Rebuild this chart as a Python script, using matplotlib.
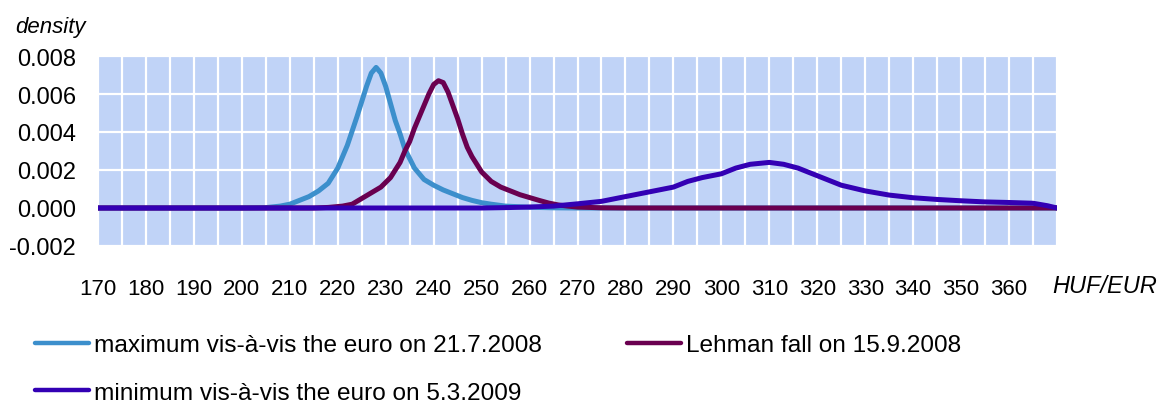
import matplotlib
matplotlib.use("Agg")
import matplotlib.pyplot as plt
from matplotlib.ticker import MultipleLocator

plt.rcParams['font.family'] = ['Liberation Sans', 'DejaVu Sans']

# --- data (HUF/EUR, density) ---
max_x = [170, 200, 205, 208, 210, 212, 214, 216, 218, 220, 222, 224, 226, 227, 228,
         229, 230, 231, 232, 233, 234, 235, 236, 237, 238, 240, 242, 244, 246, 248,
         250, 252, 255, 260, 265, 270, 370]
max_y = [0, 0, 0.00002, 0.0001, 0.0002, 0.0004, 0.0006, 0.0009, 0.0013, 0.0021,
         0.0033, 0.0048, 0.0064, 0.0071, 0.0074, 0.0071, 0.0064, 0.0055, 0.0046,
         0.0039, 0.0031, 0.0026, 0.0021, 0.0018, 0.0015, 0.0012, 0.00095, 0.00075,
         0.00055, 0.0004, 0.00028, 0.0002, 0.0001, 0.00004, 0.00001, 0, 0]

lehman_x = [170, 215, 218, 221, 223, 225, 227, 229, 231, 233, 234, 235, 236, 237,
            238, 239, 240, 241, 242, 243, 244, 245, 246, 247, 248, 249, 250, 252,
            254, 256, 258, 260, 262, 264, 266, 268, 270, 275, 280, 370]
lehman_y = [0, 0, 0.00003, 0.0001, 0.0002, 0.0005, 0.0008, 0.0011, 0.0016, 0.0024,
            0.0030, 0.0035, 0.0042, 0.0048, 0.0054, 0.0060, 0.0065, 0.0067, 0.0066,
            0.0061, 0.0054, 0.0047, 0.0039, 0.0032, 0.0027, 0.0023, 0.0019, 0.0014,
            0.0011, 0.0009, 0.0007, 0.00055, 0.0004, 0.00026, 0.00016, 0.0001,
            0.00005, 0.00001, 0, 0]

min_x = [170, 250, 255, 260, 265, 270, 275, 280, 285, 290, 293, 296, 300, 303, 306,
         310, 313, 316, 320, 325, 330, 335, 340, 345, 350, 355, 360, 365, 368, 370]
min_y = [0, 0, 0.00002, 0.00005, 0.0001, 0.00022, 0.00035, 0.0006, 0.00085, 0.0011,
         0.0014, 0.0016, 0.0018, 0.0021, 0.0023, 0.0024, 0.0023, 0.0021, 0.0017,
         0.0012, 0.0009, 0.00068, 0.00054, 0.00045, 0.00038, 0.00032, 0.00029,
         0.00025, 0.00012, 0]

labels = ["maximum vis-à-vis the euro on 21.7.2008",
          "Lehman fall on 15.9.2008",
          "minimum vis-à-vis the euro on 5.3.2009"]
colors = ["#3C8FCC", "#6A0050", "#3300B4"]

x_ticks = list(range(170, 361, 10))
y_ticks = [-0.002, 0.0, 0.002, 0.004, 0.006, 0.008]

fig = plt.figure(figsize=(11.57, 4.06), dpi=100)
ax = fig.add_axes([98 / 1157, 1 - 247 / 406, (1057 - 98) / 1157, (247 - 57) / 406])

ax.set_facecolor("#C0D3F7")
for s in ax.spines.values():
    s.set_visible(False)

h1, = ax.plot(max_x, max_y, color=colors[0], lw=3.6, label=labels[0], solid_capstyle='round')
h2, = ax.plot(lehman_x, lehman_y, color=colors[1], lw=3.6, label=labels[1], solid_capstyle='round')
h3, = ax.plot(min_x, min_y, color=colors[2], lw=3.6, label=labels[2], solid_capstyle='round')

ax.set_xlim(170, 370)
ax.set_ylim(-0.002, 0.008)
ax.set_xticks(x_ticks)
ax.set_xticklabels([str(t) for t in x_ticks])
ax.xaxis.set_minor_locator(MultipleLocator(5))
ax.set_yticks(y_ticks)
ax.set_yticklabels([f"{t:.3f}" for t in y_ticks])
ax.tick_params(axis='both', which='both', length=0)
ax.tick_params(axis='x', labelsize=16, pad=23)
ax.tick_params(axis='y', labelsize=17, pad=16)

ax.grid(True, which='both', axis='x', color='white', lw=1.6)
ax.grid(True, which='major', axis='y', color='white', lw=1.6)
ax.set_axisbelow(True)

fig.text(15 / 1157, 1 - 27 / 406, "density", fontsize=16, style='italic', va='center', ha='left')
fig.text(1052 / 1157, 1 - 287 / 406, "HUF/EUR", fontsize=17, style='italic', va='center', ha='left')

leg = fig.legend([h1, h3, h2], [labels[0], labels[2], labels[1]], ncol=2,
                 loc='upper left', bbox_to_anchor=(35 / 1157, 1 - 335 / 406),
                 frameon=False, fontsize=17.6, handlelength=2.2, handletextpad=0.2,
                 columnspacing=3.5, labelspacing=1.05, borderpad=0, borderaxespad=0)
for line in leg.get_lines():
    line.set_linewidth(3.2)
    line.set_solid_capstyle('round')

fig.savefig("out.png", dpi=100)
